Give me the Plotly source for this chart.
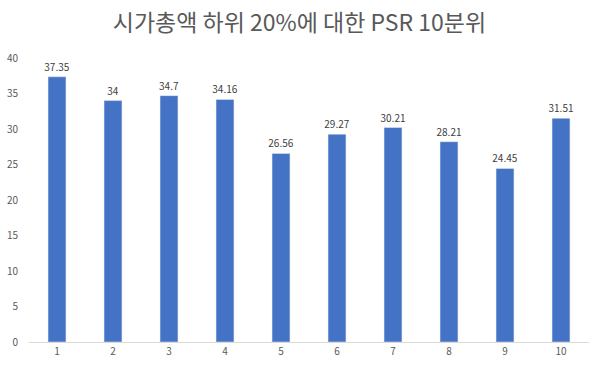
import plotly.graph_objects as go

categories = ["1", "2", "3", "4", "5", "6", "7", "8", "9", "10"]
values = [37.35, 34, 34.7, 34.16, 26.56, 29.27, 30.21, 28.21, 24.45, 31.51]
value_labels = ["37.35", "34", "34.7", "34.16", "26.56", "29.27", "30.21", "28.21", "24.45", "31.51"]
y_ticks = [0, 5, 10, 15, 20, 25, 30, 35, 40]

fig = go.Figure(go.Bar(
    x=categories, y=values, text=value_labels, textposition="outside",
    constraintext="none",
    textfont=dict(size=10, color="#404040", family="Noto Sans CJK KR, sans-serif"),
    marker=dict(color="#4472C4"), cliponaxis=False,
))
fig.update_layout(
    width=599, height=371,
    margin=dict(l=29, r=10, t=58, b=29, autoexpand=False),
    paper_bgcolor="white", plot_bgcolor="white",
    bargap=0.68,
    showlegend=False,
    title=dict(text="시가총액 하위 20%에 대한 PSR 10분위", x=0.5, xanchor="center",
               y=0.938, yanchor="middle",
               font=dict(size=23, color="#595959", family="Noto Sans CJK KR, sans-serif")),
    font=dict(family="Noto Sans CJK KR, sans-serif", color="#595959", size=10),
)
fig.update_xaxes(type="category", showline=True, linecolor="#D9D9D9", linewidth=1,
                 ticks="", showgrid=False, automargin=False, tickfont=dict(size=10, color="#595959"))
fig.update_yaxes(range=[0, 40], tickvals=y_ticks, showgrid=False, zeroline=False,
                 showline=False, ticks="", ticklabelstandoff=10, automargin=False,
                 tickfont=dict(size=10, color="#595959"))
fig.write_html("out.html", config={"displayModeBar": False},
               post_script="document.body.style.margin='0';")
